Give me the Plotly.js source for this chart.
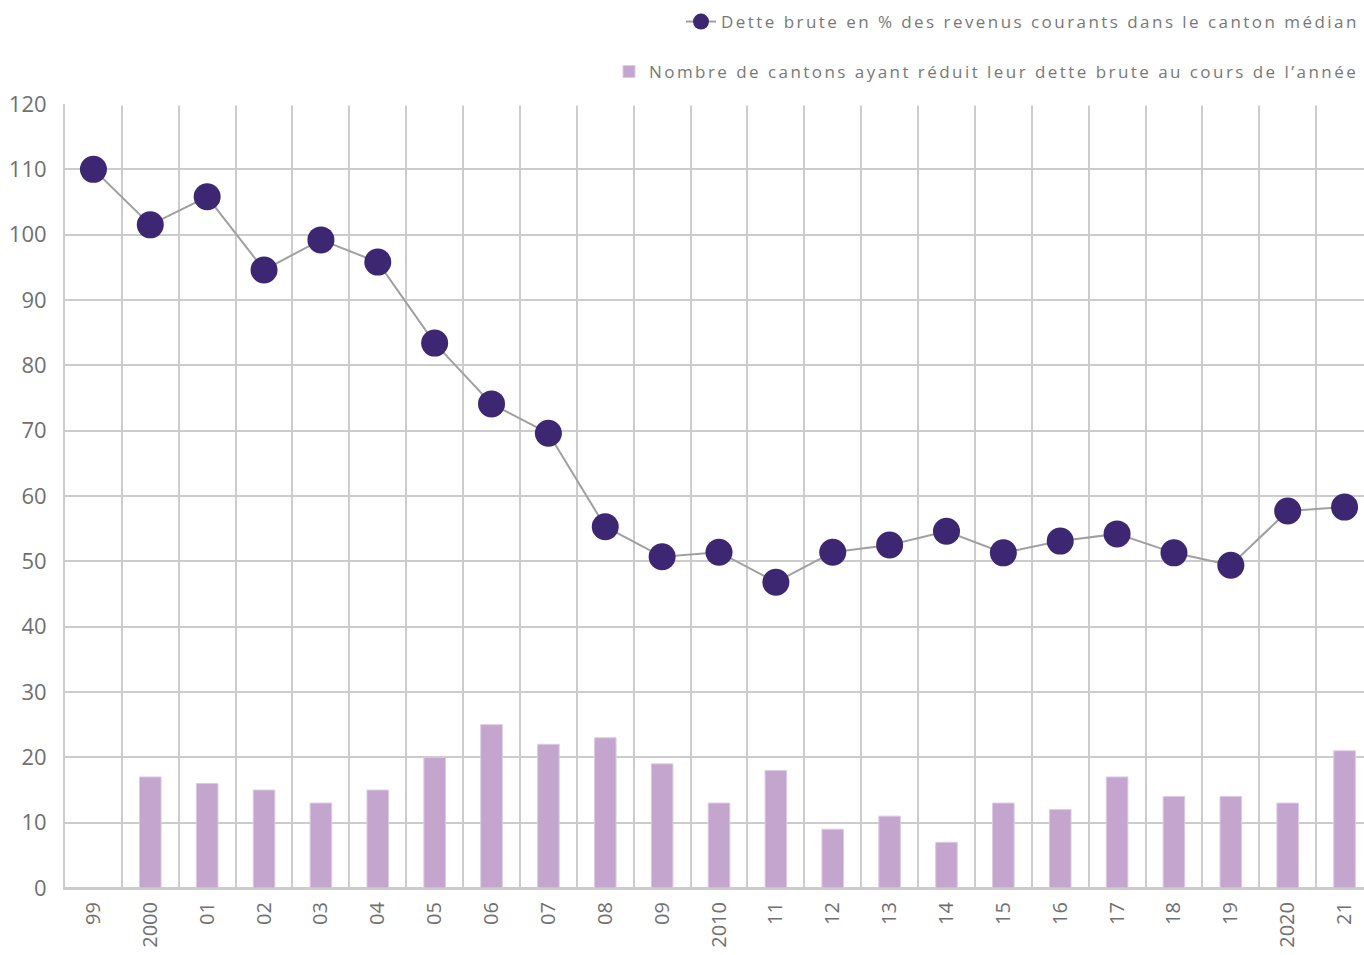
<!DOCTYPE html>
<html>
<head>
<meta charset="utf-8">
<script src="https://cdn.plot.ly/plotly-3.0.1.min.js"></script>
<style>
html,body{margin:0;padding:0;overflow:hidden;background:#fff;width:1364px;height:955px;}
#chart{width:1373px;height:955px;}
text.legendtext, text.legend2text{letter-spacing:2.45px !important;}
</style>
</head>
<body>
<div id="chart"></div>
<script>
const years = ["99","2000","01","02","03","04","05","06","07","08","09","2010","11","12","13","14","15","16","17","18","19","2020","21"];
const debtRatio = [110, 101.5, 105.8, 94.6, 99.2, 95.8, 83.4, 74.1, 69.6, 55.3, 50.7, 51.4, 46.8, 51.4, 52.5, 54.6, 51.3, 53.1, 54.2, 51.3, 49.4, 57.7, 58.3];
const cantonsReduced = [null, 17, 16, 15, 13, 15, 20, 25, 22, 23, 19, 13, 18, 9, 11, 7, 13, 12, 17, 14, 14, 13, 21];
const lineName = "Dette brute en % des revenus courants dans le canton médian";
const barName = "Nombre de cantons ayant réduit leur dette brute au cours de l’année";

const traces = [
  {
    type: "bar",
    x: years,
    y: cantonsReduced,
    name: barName,
    legend: "legend2",
    marker: {color: "#c4a5cd", line: {color: "#dccbe3", width: 1}},
    hoverinfo: "x+y"
  },
  {
    type: "scatter",
    mode: "lines+markers",
    x: years,
    y: debtRatio,
    name: lineName,
    legend: "legend",
    line: {color: "#a0a0a0", width: 2},
    marker: {color: "#3d2672", size: 27},
    hoverinfo: "x+y"
  }
];

const legendFont = {size: 17, color: "#787878", family: "Open Sans, sans-serif"};

const layout = {
  width: 1373,
  height: 955,
  margin: {l: 65, r: 0, t: 104, b: 67, autoexpand: false},
  paper_bgcolor: "#ffffff",
  plot_bgcolor: "#ffffff",
  bargap: 0.62,
  showlegend: true,
  font: {family: "Open Sans, sans-serif", color: "#707070"},
  xaxis: {
    type: "category",
    range: [-0.5, years.length - 0.5],
    tickson: "boundaries",
    showgrid: true,
    gridcolor: "#cccccc",
    gridwidth: 2,
    showline: true,
    linecolor: "#cccccc",
    linewidth: 2,
    ticks: "",
    tickangle: -90,
    tickfont: {size: 20, color: "#707070", family: "Open Sans, sans-serif"},
    ticklabelstandoff: 4,
    automargin: false,
    fixedrange: true
  },
  yaxis: {
    range: [0, 120],
    tickvals: [0,10,20,30,40,50,60,70,80,90,100,110,120],
    showgrid: true,
    gridcolor: "#cccccc",
    gridwidth: 2,
    zeroline: true,
    zerolinecolor: "#cccccc",
    zerolinewidth: 2,
    showline: true,
    linecolor: "#cccccc",
    linewidth: 2,
    ticks: "",
    tickfont: {size: 22, color: "#707070", family: "Open Sans, sans-serif"},
    ticklabelstandoff: 12,
    automargin: false,
    fixedrange: true
  },
  legend: {
    xref: "container", yref: "container",
    x: 1364/1373, xanchor: "right",
    y: 1 - 22/955, yanchor: "middle",
    bgcolor: "rgba(0,0,0,0)",
    font: legendFont
  },
  legend2: {
    xref: "container", yref: "container",
    x: 1364/1373, xanchor: "right",
    y: 1 - 72/955, yanchor: "middle",
    bgcolor: "rgba(0,0,0,0)",
    font: legendFont
  },
  shapes: [
    {type: "line", xref: "paper", yref: "y", x0: 0, x1: 1, y0: 120, y1: 120, line: {color: "#ffffff", width: 3}, layer: "above"}
  ]
};

Plotly.newPlot("chart", traces, layout, {displayModeBar: false, staticPlot: true});
</script>
</body>
</html>
